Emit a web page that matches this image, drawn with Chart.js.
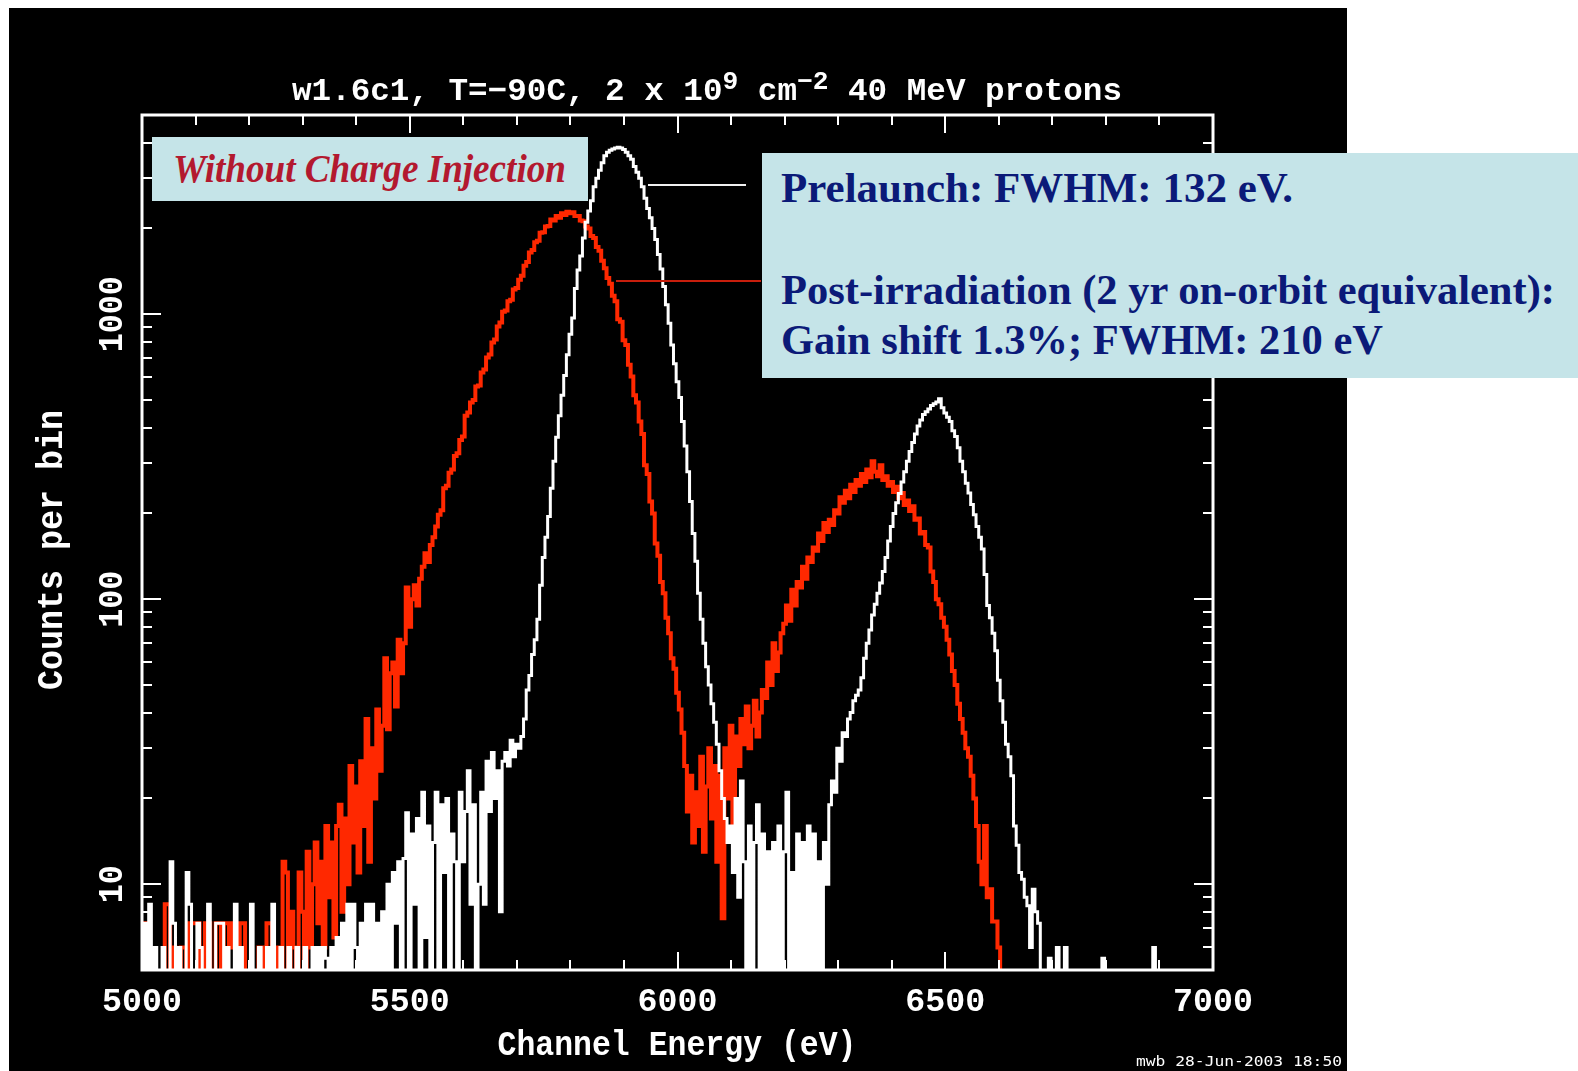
<!DOCTYPE html>
<html><head><meta charset="utf-8">
<script src="https://cdn.jsdelivr.net/npm/chart.js@4.4.1/dist/chart.umd.min.js"></script>
<style>
html,body{margin:0;padding:0;background:#fff;}
body{width:1578px;height:1071px;position:relative;overflow:hidden;}
#panel{position:absolute;left:9px;top:8px;width:1338px;height:1063px;background:#000;}
#c{position:absolute;left:0;top:0;}
.box{position:absolute;background:#c5e4e8;}
.txt{position:absolute;white-space:nowrap;line-height:1;left:0;top:0;}
.txt .t{display:inline-block;transform-origin:0 0;}
.bm{display:inline-block;width:0;height:0;}
.conn{position:absolute;height:2px;}
</style></head><body>
<div id="panel"></div>
<canvas id="c" width="1578" height="1071"></canvas>
<div class="conn" style="left:648px;top:184px;width:98px;background:#f0f0f0"></div>
<div class="conn" style="left:616px;top:280px;width:145px;background:#c81e0c"></div>
<div class="box" style="left:152px;top:137px;width:436px;height:64px"></div>
<div class="box" style="left:762px;top:153px;width:816px;height:225px"></div>
<div class="txt" id="t1" style="font:italic bold 40px 'Liberation Serif';color:#b3192f"><span class="t">Without Charge Injection</span><span class="bm"></span></div>
<div class="txt" id="t2" style="font:bold 43px 'Liberation Serif';color:#0b1a78"><span class="t">Prelaunch: FWHM: 132 eV.</span><span class="bm"></span></div>
<div class="txt" id="t3" style="font:bold 43px 'Liberation Serif';color:#0b1a78"><span class="t">Post-irradiation (2 yr on-orbit equivalent):</span><span class="bm"></span></div>
<div class="txt" id="t4" style="font:bold 43px 'Liberation Serif';color:#0b1a78"><span class="t">Gain shift 1.3%; FWHM: 210 eV</span><span class="bm"></span></div>
<script>
// ---- data (counts per 5 eV bin, starting at 5000 eV; values below 5 are off-scale) ----
const binStartEV = 5000;
const binWidthEV = 5;

const prelaunchCounts = [
  1, 7.3, 1, 8.5, 1, 6, 1, 1, 6, 1,
  1, 12, 7.3, 1, 6, 1, 1, 11, 8.5, 1,
  1, 7.3, 6, 1, 1, 8.5, 1, 1, 7.3, 7.3,
  7.3, 1, 6, 1, 1, 8.5, 1, 6, 1, 1,
  1, 8.5, 1, 1, 6, 1, 1, 6, 1, 8.5,
  1, 1, 6, 1, 1, 6, 1, 1, 6, 1,
  1, 6, 1, 1, 6, 1, 6, 1, 6, 5.5,
  1, 6, 1, 6.5, 1, 7.3, 1, 8.5, 1, 8.5,
  6, 1, 7.3, 1, 8.5, 1, 8.5, 1, 7.3, 1,
  8, 1, 10, 1, 11, 7.3, 12, 1, 12.3, 17.8,
  1, 15, 8.5, 17, 1, 21, 6.5, 16, 1, 14,
  21, 1, 19, 11, 20, 1, 15, 12, 1, 21,
  12, 18, 25, 8.5, 19, 1, 10, 21, 8.5, 27,
  18, 29, 20, 25, 8, 27, 29, 26, 32, 28,
  31, 30, 33, 38, 48, 54, 64, 72, 85, 112,
  140, 165, 195, 245, 305, 370, 440, 520, 610, 720,
  850, 970, 1230, 1430, 1600, 1850, 2100, 2300, 2500, 2800,
  3000, 3200, 3400, 3600, 3700, 3760, 3800, 3830, 3850, 3830,
  3780, 3700, 3600, 3500, 3300, 3150, 3000, 2800, 2550, 2350,
  2180, 2000, 1830, 1620, 1440, 1250, 1080, 930, 780, 670,
  580, 510, 420, 345, 280, 220, 170, 136, 105, 85,
  70, 58, 50, 43, 37, 31, 25, 20, 17, 14,
  16, 11, 20, 9, 23, 12, 1, 16, 1, 14,
  19, 1, 15, 1, 13, 1, 14, 1, 16, 1,
  13, 21, 1, 11, 1, 15, 1, 14, 1, 16,
  1, 15, 1, 12, 1, 14, 10, 19, 23, 21,
  30, 27, 34, 33, 38, 40, 44, 46, 48, 53,
  62, 70, 78, 88, 96, 105, 114, 125, 140, 160,
  180, 200, 218, 235, 258, 280, 305, 330, 355, 380,
  405, 425, 445, 455, 465, 478, 485, 492, 505, 470,
  450, 435, 420, 390, 372, 340, 305, 280, 255, 236,
  215, 198, 180, 165, 150, 122, 95, 86, 76, 66,
  52, 44, 37, 31, 28, 24, 16, 13.7, 11, 10.4,
  9, 8.4, 6, 9.6, 8, 7.3, 1, 1, 1, 5.5,
  1, 1, 6, 1, 1, 6, 1, 1, 1, 1,
  1, 1, 1, 1, 1, 1, 1, 1, 1, 5.5,
  1, 1, 1, 1, 1, 1, 1, 1, 1, 1,
  1, 1, 1, 1, 1, 1, 1, 1, 6, 1,
  1, 1, 1, 1, 1, 1, 1, 1, 1, 1,
  1, 1, 1, 1, 1, 1, 1, 1, 1, 1,
  1
];

const postIrradCounts = [
  7.3, 7.3, 7.3, 1, 1, 1, 1, 1, 1, 8.5,
  8.5, 1, 6, 1, 1, 6, 6, 1, 7.3, 7.3,
  7.3, 7.3, 1, 1, 7.3, 7.3, 1, 1, 7.3, 7.3,
  1, 7.3, 7.3, 6, 7.3, 7.3, 1, 7.3, 7.3, 1,
  1, 1, 1, 1, 6, 6, 1, 7.3, 7.3, 1,
  1, 6, 1, 12, 11, 1, 8, 6, 1, 11,
  8, 1, 13, 6, 10, 14, 7.3, 12, 6, 16,
  9, 14, 6.5, 16, 19, 8, 17, 10, 26, 14,
  22, 11, 27, 16, 38, 12, 30, 20, 41, 25,
  36, 62, 35, 55, 60, 42, 72, 55, 70, 110,
  80, 100, 112, 95, 118, 130, 145, 135, 155, 165,
  180, 198, 205, 245, 250, 278, 285, 318, 325, 362,
  372, 440, 452, 490, 500, 558, 562, 625, 640, 705,
  722, 795, 815, 905, 935, 1020, 1030, 1110, 1125, 1220,
  1235, 1320, 1365, 1480, 1525, 1645, 1680, 1790, 1810, 1930,
  1940, 2030, 2040, 2150, 2130, 2210, 2180, 2260, 2230, 2290,
  2260, 2280, 2210, 2210, 2130, 2120, 2030, 2000, 1880, 1850,
  1720, 1670, 1540, 1450, 1340, 1280, 1160, 1110, 960, 940,
  810, 780, 665, 605, 520, 490, 420, 380, 295, 275,
  220, 200, 157, 142, 115, 105, 86, 76, 62, 57,
  47, 41, 34, 26, 18, 24, 14, 21, 16, 28,
  13, 22, 30, 17, 26, 12, 24, 7.6, 30, 20,
  36, 16, 33, 26, 38, 31, 42, 30, 36, 44,
  33, 40, 48, 45, 60, 50, 70, 56, 65, 76,
  82, 95, 84, 108, 95, 115, 110, 130, 118, 140,
  135, 152, 148, 170, 160, 185, 172, 190, 182, 205,
  200, 228, 218, 240, 226, 252, 238, 262, 250, 275,
  258, 285, 268, 305, 280, 270, 295, 262, 270, 250,
  258, 238, 248, 226, 236, 214, 222, 204, 212, 190,
  192, 170, 172, 155, 152, 125, 115, 100, 96, 86,
  80, 72, 64, 56, 50, 43, 38, 34, 30, 28,
  24, 20, 16, 12, 10, 16, 9, 9.6, 7.4, 7.4,
  6, 1, 1, 1, 1, 1, 1, 1, 1, 1,
  1, 1, 1, 1, 1, 1, 1, 1, 1, 1,
  1, 1, 1, 1, 1, 1, 1, 1, 1, 1,
  1, 1, 1, 1, 1, 1, 1, 1, 1, 1,
  1, 1, 1, 1, 1, 1, 1, 1, 1, 1,
  1, 1, 1, 1, 1, 1, 1, 1, 1, 1,
  1, 1, 1, 1, 1, 1, 1, 1, 1, 1,
  1, 1, 1, 1, 1, 1, 1, 1, 1, 1,
  1
];

const xRange = [5000, 7000];
const yRange = [5, 5000];
const xMajorTicks = [5000, 5500, 6000, 6500, 7000];
const xTickLabels = ['5000', '5500', '6000', '6500', '7000'];
const xMinorTicks = [5100, 5200, 5300, 5400, 5600, 5700, 5800, 5900, 6100, 6200, 6300, 6400, 6600, 6700, 6800, 6900];
const yMajorTicks = [10, 100, 1000];
const yTickLabels = ['10', '100', '1000'];
const yMinorTicks = [6, 7, 8, 9, 20, 30, 40, 50, 60, 70, 80, 90, 200, 300, 400, 500, 600, 700, 800, 900, 2000, 3000, 4000];

const titleParts = [['w1.6c1, T=\u221290C, 2 x 10', 0], ['9', 1], [' cm', 0], ['\u22122', 1], [' 40 MeV protons', 0]];
const xAxisTitle = 'Channel Energy (eV)';
const yAxisTitle = 'Counts per bin';
const footnote = 'mwb 28-Jun-2003 18:50';

const energies = prelaunchCounts.map((_, i) => binStartEV + i * binWidthEV);
const toPoints = arr => arr.map((v, i) => ({x: energies[i], y: v}));

const MONO = '"Liberation Mono"';

function drawFitted(ctx, text, font, o) {
  ctx.save();
  ctx.font = font;
  const w = ctx.measureText(text).width;
  const cap = ctx.measureText(o.ref || 'H').actualBoundingBoxAscent;
  const sx = o.w / w;
  const sy = o.h / cap;
  ctx.translate(o.x, o.y);
  if (o.rot) ctx.rotate(-Math.PI / 2);
  ctx.scale(sx, sy);
  ctx.textAlign = o.align || 'left';
  ctx.textBaseline = 'alphabetic';
  ctx.fillStyle = o.color || '#fff';
  ctx.fillText(text, 0, 0);
  ctx.restore();
}

const framePlugin = {
  id: 'frameTicks',
  afterDatasetsDraw(chart) {
    const {ctx, chartArea: a} = chart;
    const xs = chart.scales.x, ys = chart.scales.y;
    ctx.save();
    ctx.strokeStyle = '#fff';
    ctx.lineWidth = 2;
    ctx.beginPath();
    const xt = (v, len) => {
      const p = Math.round(xs.getPixelForValue(v));
      ctx.moveTo(p, a.bottom); ctx.lineTo(p, a.bottom - len);
      ctx.moveTo(p, a.top); ctx.lineTo(p, a.top + len);
    };
    const yt = (v, len) => {
      const p = Math.round(ys.getPixelForValue(v));
      ctx.moveTo(a.left, p); ctx.lineTo(a.left + len, p);
      ctx.moveTo(a.right, p); ctx.lineTo(a.right - len, p);
    };
    xMajorTicks.forEach(v => xt(v, 18));
    xMinorTicks.forEach(v => xt(v, 10));
    yMajorTicks.forEach(v => yt(v, 19));
    yMinorTicks.forEach(v => yt(v, 10));
    ctx.stroke();
    ctx.lineWidth = 3;
    ctx.strokeRect(a.left, a.top, a.right - a.left, a.bottom - a.top);
    ctx.restore();
  },
  afterDraw(chart) {
    const ctx = chart.ctx;
    const xs = chart.scales.x, ys = chart.scales.y;
    xMajorTicks.forEach((v, i) => {
      const t = xTickLabels[i];
      drawFitted(ctx, t, 'bold 38px ' + MONO, {x: xs.getPixelForValue(v), y: 1011, w: 20 * t.length, h: 23, ref: '0', align: 'center'});
    });
    yMajorTicks.forEach((v, i) => {
      const t = yTickLabels[i];
      drawFitted(ctx, t, 'bold 38px ' + MONO, {x: 122, y: ys.getPixelForValue(v), w: 19 * t.length, h: 24, ref: '0', align: 'center', rot: true});
    });
    drawFitted(ctx, xAxisTitle, 'bold 40px ' + MONO, {x: 677, y: 1055, w: 359, h: 24, ref: 'C', align: 'center'});
    drawFitted(ctx, yAxisTitle, 'bold 40px ' + MONO, {x: 62, y: 550, w: 280, h: 25, ref: 'C', align: 'center', rot: true});
    drawFitted(ctx, footnote, '15px "DejaVu Sans Mono"', {x: 1136, y: 1066, w: 206, h: 11, ref: '2', align: 'left'});
    ctx.save();
    const fMain = 'bold 36px ' + MONO, fSup = 'bold 29px ' + MONO;
    let total = 0;
    titleParts.forEach(([s, sup]) => { ctx.font = sup ? fSup : fMain; total += ctx.measureText(s).width; });
    ctx.font = fMain;
    const cap = ctx.measureText('T').actualBoundingBoxAscent;
    const sx = 830 / total, sy = 21 / cap;
    ctx.translate(292, 100);
    ctx.scale(sx, sy);
    ctx.fillStyle = '#fff';
    ctx.textBaseline = 'alphabetic';
    ctx.textAlign = 'left';
    let cx = 0;
    titleParts.forEach(([s, sup]) => {
      ctx.font = sup ? fSup : fMain;
      ctx.fillText(s, cx, sup ? -11 / sy : 0);
      cx += ctx.measureText(s).width;
    });
    ctx.restore();
  }
};

new Chart(document.getElementById('c'), {
  type: 'line',
  data: {
    datasets: [
      {label: 'Prelaunch', data: toPoints(prelaunchCounts), borderColor: '#ffffff', borderWidth: 3, stepped: 'middle', pointRadius: 0, fill: false},
      {label: 'Post-irradiation', data: toPoints(postIrradCounts), borderColor: '#ff2800', borderWidth: 4, stepped: 'middle', pointRadius: 0, fill: false}
    ]
  },
  options: {
    responsive: false,
    animation: false,
    devicePixelRatio: 1,
    layout: {padding: {left: 142, top: 115, right: 365, bottom: 101}},
    plugins: {legend: {display: false}, title: {display: false}, tooltip: {enabled: false}},
    scales: {
      x: {type: 'linear', min: xRange[0], max: xRange[1], bounds: 'data', display: false},
      y: {type: 'logarithmic', min: yRange[0], max: yRange[1], bounds: 'data', display: false}
    }
  },
  plugins: [framePlugin]
});

const annot = [
  ['t1', 173, 182, 393],
  ['t2', 781, 202, 512],
  ['t3', 781, 304, 774],
  ['t4', 781, 354, 602]
];
annot.forEach(([id, left, baseline, width]) => {
  const el = document.getElementById(id);
  const t = el.querySelector('.t');
  const bm = el.querySelector('.bm');
  const w = t.getBoundingClientRect().width;
  const off = bm.getBoundingClientRect().top - el.getBoundingClientRect().top;
  t.style.transform = 'scaleX(' + (width / w) + ')';
  el.style.left = left + 'px';
  el.style.top = (baseline - off) + 'px';
});
</script>
</body></html>
